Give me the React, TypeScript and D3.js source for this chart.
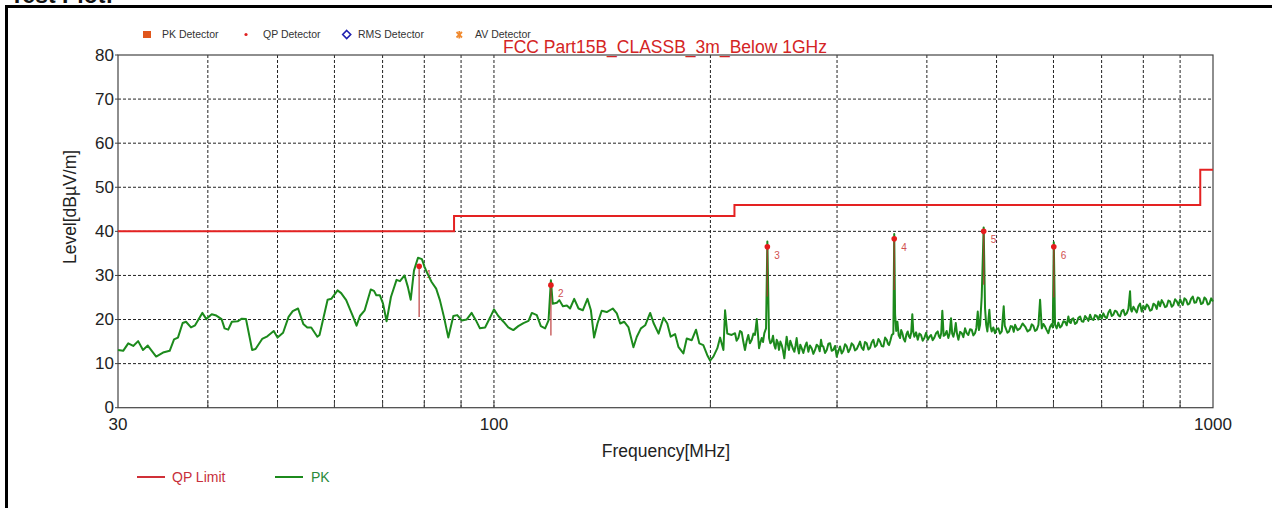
import React from "react";
import * as d3 from "d3";

// Peak trace: [frequency MHz, level dBµV/m]
const pkTrace: [number, number][] = [
  [30.0, 13.1], [30.5, 12.9], [31.0, 14.6], [31.5, 14.0], [32.0, 15.1], [32.5, 13.1], [33.0, 14.1], [33.9, 11.6],
  [34.65, 12.5], [35.4, 12.9], [35.9, 15.5], [36.35, 15.9], [36.9, 19.2], [37.3, 19.5], [37.9, 18.2], [38.4, 18.7],
  [39.3, 21.5], [39.8, 20.1], [40.5, 21.2], [41.1, 20.9], [41.8, 20.1], [42.2, 18.0], [42.7, 17.7], [43.2, 19.5],
  [44.0, 19.6], [44.6, 20.2], [45.2, 20.1], [46.1, 13.1], [46.6, 13.3], [47.6, 15.6], [48.4, 16.2], [49.4, 17.4],
  [50.0, 15.9], [50.9, 17.0], [51.8, 20.6], [52.5, 21.9], [53.4, 22.5], [54.3, 19.0], [55.0, 18.2], [55.7, 18.2],
  [56.8, 16.1], [57.2, 16.5], [58.7, 24.5], [59.4, 24.7], [60.6, 26.6], [61.3, 26.0], [62.3, 24.4], [63.7, 20.6],
  [64.4, 18.6], [65.1, 20.8], [66.1, 22.1], [67.4, 26.8], [68.1, 26.5], [68.6, 25.5], [69.4, 25.5], [70.1, 23.6],
  [70.9, 19.6], [71.9, 25.1], [73.2, 29.0], [74.0, 28.7], [75.1, 30.0], [75.9, 27.4], [76.6, 24.5], [77.4, 31.1],
  [78.4, 34.0], [79.4, 33.7], [80.1, 31.9], [80.6, 30.8], [81.9, 28.5], [83.1, 27.0], [84.1, 24.4], [85.2, 20.6],
  [86.4, 15.9], [87.8, 20.8], [88.9, 21.0], [90.2, 19.8], [91.6, 20.0], [93.1, 21.5], [94.4, 19.8], [95.6, 18.0],
  [97.2, 18.2], [98.8, 20.5], [100.0, 22.3], [101.4, 20.8], [103.1, 19.5], [104.7, 18.2], [106.4, 17.6], [108.1, 18.5],
  [109.9, 19.2], [111.7, 19.7], [112.9, 21.5], [114.7, 21.0], [116.2, 18.5], [117.8, 18.0], [119.1, 19.8], [120.0, 28.9],
  [120.7, 23.6], [122.3, 23.8], [123.3, 24.4], [124.7, 23.0], [126.3, 23.2], [127.6, 22.5], [129.3, 24.7], [131.1, 22.5],
  [132.9, 22.1], [134.9, 24.7], [136.4, 22.1], [137.8, 15.9], [139.3, 19.1], [141.2, 22.0], [143.5, 21.7], [146.3, 22.5],
  [148.2, 21.4], [149.8, 19.1], [151.7, 19.5], [153.8, 18.3], [156.3, 13.7], [158.0, 16.1], [160.1, 18.0], [162.3, 18.7],
  [164.9, 21.5], [166.7, 19.2], [169.4, 16.8], [172.1, 20.4], [174.2, 19.1], [176.1, 16.1], [178.6, 16.7], [180.5, 13.8],
  [183.4, 12.3], [185.4, 15.7], [188.4, 15.3], [191.0, 17.7], [193.0, 14.6], [195.5, 14.2], [198.0, 11.9], [199.8, 10.7],
  [201.9, 11.6], [204.5, 13.5], [206.3, 15.9], [208.5, 13.1], [209.6, 22.1], [211.1, 16.8], [214.1, 16.5], [216.4, 16.9],
  [217.5, 15.2], [218.7, 15.8], [219.9, 17.4], [221.1, 17.1], [222.2, 15.0], [223.4, 13.1], [224.6, 15.1], [225.8, 16.5],
  [227.0, 14.6], [228.3, 15.4], [229.5, 16.8], [230.7, 16.5], [232.0, 20.1], [233.7, 13.5], [234.7, 14.8], [235.7, 15.8],
  [236.7, 14.9], [237.7, 16.9], [239.0, 18.0], [240.0, 37.7], [241.3, 15.8], [242.3, 14.6], [243.4, 15.0], [244.4, 16.3],
  [245.4, 14.2], [246.3, 13.4], [247.3, 15.4], [248.2, 14.8], [249.1, 13.1], [250.2, 15.0], [251.3, 14.2], [252.3, 13.0],
  [253.4, 11.2], [254.3, 13.6], [255.3, 16.1], [256.2, 14.4], [257.2, 13.1], [258.3, 15.2], [259.5, 14.2], [260.6, 13.3],
  [261.7, 12.7], [262.6, 14.0], [263.6, 15.8], [264.6, 13.6], [265.6, 12.3], [266.7, 14.3], [267.9, 13.5], [269.3, 12.4],
  [270.8, 13.9], [272.2, 14.8], [273.7, 12.7], [275.1, 14.1], [276.6, 13.5], [278.1, 12.2], [279.6, 13.1], [281.1, 14.3],
  [282.6, 13.9], [283.8, 12.8], [285.0, 15.4], [286.0, 14.0], [287.1, 13.9], [288.7, 12.4], [290.3, 13.1], [291.8, 14.5],
  [293.4, 14.6], [294.9, 12.9], [296.5, 13.1], [298.1, 14.0], [299.7, 11.6], [301.3, 12.8], [302.9, 13.9], [304.5, 12.3],
  [306.1, 12.9], [307.8, 14.4], [309.5, 13.9], [311.1, 12.6], [312.8, 13.3], [314.4, 14.6], [316.1, 14.2], [317.8, 13.0],
  [319.5, 13.3], [321.2, 14.1], [322.9, 15.0], [324.6, 13.6], [326.4, 13.1], [328.1, 14.9], [329.9, 14.6], [331.7, 13.2],
  [333.5, 13.6], [335.2, 14.8], [337.0, 15.4], [338.8, 13.8], [340.7, 14.2], [342.5, 15.6], [344.3, 15.0], [346.1, 14.0],
  [348.0, 13.9], [349.9, 15.9], [351.8, 15.4], [353.1, 14.5], [354.4, 14.2], [356.0, 15.3], [357.5, 16.5], [359.3, 16.8],
  [360.3, 39.4], [361.3, 21.1], [362.6, 17.4], [364.0, 19.5], [365.5, 16.4], [367.1, 15.8], [368.4, 17.6], [369.8, 16.9],
  [371.4, 15.6], [373.0, 15.0], [374.6, 16.6], [376.2, 17.3], [377.6, 16.2], [379.0, 15.8], [380.4, 17.0], [381.8, 21.2],
  [383.0, 17.2], [384.3, 16.1], [386.4, 17.1], [388.5, 15.4], [390.5, 16.8], [392.6, 16.5], [394.7, 15.2], [396.8, 15.8],
  [399.0, 17.0], [401.2, 15.4], [403.3, 16.1], [405.4, 16.5], [407.5, 15.3], [409.7, 15.9], [412.0, 16.9], [414.2, 17.3],
  [415.7, 16.2], [417.2, 15.8], [418.8, 16.9], [420.3, 22.0], [422.1, 16.3], [424.0, 16.5], [426.2, 17.4], [428.5, 15.8],
  [430.3, 16.9], [432.2, 20.3], [433.8, 16.8], [435.4, 16.1], [437.1, 17.2], [438.8, 19.2], [440.6, 16.7], [442.5, 15.4],
  [444.9, 17.2], [447.3, 16.9], [449.6, 16.0], [452.0, 18.0], [454.4, 16.9], [456.8, 16.5], [459.3, 17.8], [461.8, 17.7],
  [464.2, 16.4], [466.7, 16.9], [468.7, 18.1], [470.8, 21.8], [472.6, 17.6], [474.3, 18.8], [476.8, 25.2], [479.8, 40.9],
  [481.9, 22.6], [483.7, 18.8], [485.5, 17.3], [488.6, 22.2], [490.4, 18.4], [492.3, 17.3], [494.9, 18.2], [497.5, 16.9],
  [500.2, 17.9], [502.9, 18.0], [505.6, 16.8], [508.4, 17.3], [511.6, 23.0], [513.3, 18.6], [515.0, 18.0], [517.7, 17.0],
  [520.4, 17.3], [523.2, 18.5], [526.0, 18.4], [528.3, 17.2], [530.6, 18.8], [534.8, 17.6], [539.1, 18.0], [543.5, 19.1],
  [547.9, 18.4], [552.3, 17.3], [556.7, 17.7], [559.6, 18.9], [562.5, 18.6], [565.6, 17.4], [568.8, 17.7], [571.8, 18.8],
  [574.8, 24.5], [577.9, 18.0], [581.0, 19.0], [584.0, 18.4], [587.1, 17.6], [590.2, 16.9], [593.4, 18.3], [596.7, 19.0],
  [598.6, 18.2], [600.6, 37.5], [603.0, 18.8], [606.2, 18.0], [609.4, 19.3], [612.7, 18.2], [616.1, 18.6], [619.3, 19.6],
  [622.6, 19.5], [626.0, 18.7], [629.3, 20.7], [631.7, 19.4], [634.1, 19.2], [636.7, 20.1], [639.3, 20.3], [642.8, 19.0],
  [646.4, 19.3], [649.8, 20.4], [653.3, 20.7], [656.8, 19.6], [660.3, 19.5], [663.9, 20.8], [667.5, 20.3], [671.0, 19.7],
  [674.6, 21.1], [678.2, 20.1], [681.8, 19.9], [685.5, 21.0], [689.2, 20.8], [692.8, 20.0], [696.5, 21.1], [700.2, 20.2],
  [703.9, 21.4], [707.7, 20.6], [711.6, 20.3], [715.4, 21.6], [719.2, 22.2], [723.0, 20.8], [726.8, 21.1], [730.7, 22.0],
  [734.7, 21.8], [738.6, 21.0], [742.5, 20.7], [746.5, 21.9], [750.5, 22.2], [754.5, 21.0], [758.6, 21.4], [762.6, 22.4],
  [766.7, 26.4], [768.8, 22.3], [770.9, 21.8], [775.0, 22.9], [779.2, 22.2], [783.3, 21.6], [787.5, 23.0], [791.7, 23.6],
  [796.0, 21.8], [800.2, 23.1], [804.5, 22.3], [808.8, 23.4], [813.1, 23.0], [817.5, 22.0], [822.0, 22.2], [826.3, 23.6],
  [830.7, 23.3], [835.1, 22.4], [839.6, 24.1], [844.1, 23.0], [848.6, 24.4], [853.2, 23.7], [857.7, 22.8], [862.3, 23.0],
  [866.9, 24.3], [871.5, 24.1], [876.1, 22.9], [880.8, 23.3], [885.7, 24.6], [890.6, 24.1], [895.3, 23.2], [900.1, 24.6],
  [903.9, 23.9], [907.8, 23.3], [912.6, 24.8], [917.4, 24.5], [922.3, 23.4], [927.2, 23.6], [932.2, 24.7], [937.3, 25.2],
  [942.3, 23.8], [947.3, 23.9], [952.3, 25.0], [957.4, 24.8], [962.6, 23.5], [967.8, 23.7], [972.9, 25.0], [978.1, 24.6],
  [983.3, 23.4], [988.5, 23.6], [994.2, 24.8], [1000, 24.1],
];

// QP limit steps (start frequency of each band) and levels
const limitFreqs = [30, 88, 216, 960, 1000];
const limitLevels = [40, 43.5, 46, 54, 54];

// QP measurement points
const markerIds = ["1", "2", "3", "4", "5", "6"];
const markerFreqs = [78.7, 120.0, 240.0, 360.3, 479.8, 600.6];
const markerLevels = [32.1, 27.8, 36.5, 38.3, 40.0, 36.5];
const markerReadings = [20.6, 16.4, 25.2, 26.7, 27.9, 25.0];

const yTicks = [0, 10, 20, 30, 40, 50, 60, 70, 80];
const xGrid = [40, 50, 60, 70, 80, 90, 100, 200, 300, 400, 500, 600, 700, 800, 900];
const xLabels = [30, 100, 1000];

const FONT = "'Liberation Sans', Arial, sans-serif";

export default function App() {
  const x = d3.scaleLog().domain([30, 1000]).range([118, 1213]);
  const y = d3.scaleLinear().domain([0, 80]).range([407.7, 55]);
  const [x0, x1] = x.range();
  const [yb, yt] = y.range();

  const traceLine = d3
    .line<[number, number]>()
    .x((d) => x(d[0]))
    .y((d) => y(d[1]));

  const limitLine = d3
    .line<number>()
    .curve(d3.curveStepAfter)
    .x((_, i) => x(limitFreqs[i]))
    .y((d) => y(d));

  return (
    <div style={{ position: "absolute", left: 0, top: 0 }}>
      <svg width={1272} height={508} style={{ display: "block", fontFamily: FONT }}>
        <rect width={1272} height={508} fill="#fff" />
        <text x={10} y={3} fontSize={23} fontWeight="bold" fill="#111">Test Plot:</text>
        {/* outer frame */}
        <rect x={6.5} y={6.5} width={1300} height={520} fill="none" stroke="#000" strokeWidth={3} />

        {/* detector legend */}
        <g fontSize={10.5} fill="#333">
          <rect x={143} y={31} width={8} height={7} fill="#e0561c" />
          <text x={162} y={38}>PK Detector</text>
          <circle cx={246} cy={34.5} r={1.6} fill="#e02020" />
          <text x={263} y={38}>QP Detector</text>
          <path d="M346.7,30.5 L350.7,34.5 L346.7,38.5 L342.7,34.5 Z" fill="#fff" stroke="#2020b0" strokeWidth={1.6} />
          <text x={358} y={38}>RMS Detector</text>
          <g stroke="#f08a30" strokeWidth={1.8}>
            <line x1={456.5} y1={32} x2={462} y2={37.5} />
            <line x1={462} y1={32} x2={456.5} y2={37.5} />
            <line x1={459.3} y1={31} x2={459.3} y2={38.5} />
          </g>
          <text x={475} y={38}>AV Detector</text>
        </g>
        <text x={503} y={52.5} fontSize={17.5} fill="#d42424">FCC Part15B_CLASSB_3m_Below 1GHz</text>

        {/* grid */}
        <g stroke="#222" strokeWidth={1} strokeDasharray="3,2">
          {yTicks.slice(1, -1).map((t) => (
            <line key={"h" + t} x1={x0} x2={x1} y1={y(t)} y2={y(t)} />
          ))}
          {xGrid.map((f) => (
            <line key={"v" + f} x1={x(f)} x2={x(f)} y1={yt} y2={yb} />
          ))}
        </g>
        <g stroke="#444" strokeWidth={1}>
          {xGrid.map((f) => (
            <line key={"t" + f} x1={x(f)} x2={x(f)} y1={yb} y2={yb - 6} />
          ))}
          {yTicks.map((t) => (
            <line key={"yt" + t} x1={x0 - 3} x2={x0} y1={y(t)} y2={y(t)} />
          ))}
        </g>
        <rect x={x0} y={yt} width={x1 - x0} height={yb - yt} fill="none" stroke="#444" strokeWidth={1.2} />

        {/* axis labels */}
        <g fontSize={17} fill="#222">
          {yTicks.map((t) => (
            <text key={"yl" + t} x={114} y={y(t)} textAnchor="end" dominantBaseline="central">{t}</text>
          ))}
          {xLabels.map((f) => (
            <text key={"xl" + f} x={x(f)} y={430} textAnchor="middle">{f}</text>
          ))}
        </g>
        <text x={666} y={457} fontSize={17.5} textAnchor="middle" fill="#222">Frequency[MHz]</text>
        <text transform="translate(76,207) rotate(-90)" fontSize={17.5} textAnchor="middle" fill="#222">Level[dBµV/m]</text>

        {/* limit */}
        <path d={limitLine(limitLevels) || ""} fill="none" stroke="#e42222" strokeWidth={2} />

        {/* marker labels sit beneath the trace */}
        <g fontSize={10} fill="#d05050">
          {markerIds.map((id, i) => (
            <text key={"ml" + id} x={x(markerFreqs[i]) + 7} y={y(markerLevels[i]) + 12}>{id}</text>
          ))}
        </g>

        {/* PK trace */}
        <path d={traceLine(pkTrace) || ""} fill="none" stroke="#1c8a1c" strokeWidth={2} strokeLinejoin="round" />

        {/* QP stems and points */}
        {markerIds.map((id, i) => (
          <g key={"m" + id}>
            <line
              x1={x(markerFreqs[i])}
              x2={x(markerFreqs[i])}
              y1={y(markerLevels[i])}
              y2={y(markerReadings[i])}
              stroke="#b83030"
              strokeOpacity={0.75}
              strokeWidth={1.5}
            />
            <circle cx={x(markerFreqs[i])} cy={y(markerLevels[i])} r={2.8} fill="#e41c1c" />
          </g>
        ))}

        {/* series legend */}
        <line x1={137} x2={165} y1={477} y2={477} stroke="#d03038" strokeWidth={2} />
        <text x={172} y={482} fontSize={14} fill="#c8303a">QP Limit</text>
        <line x1={275} x2={303} y1={477} y2={477} stroke="#1c8a1c" strokeWidth={2} />
        <text x={311} y={482} fontSize={14} fill="#2a8a3a">PK</text>
      </svg>
    </div>
  );
}
